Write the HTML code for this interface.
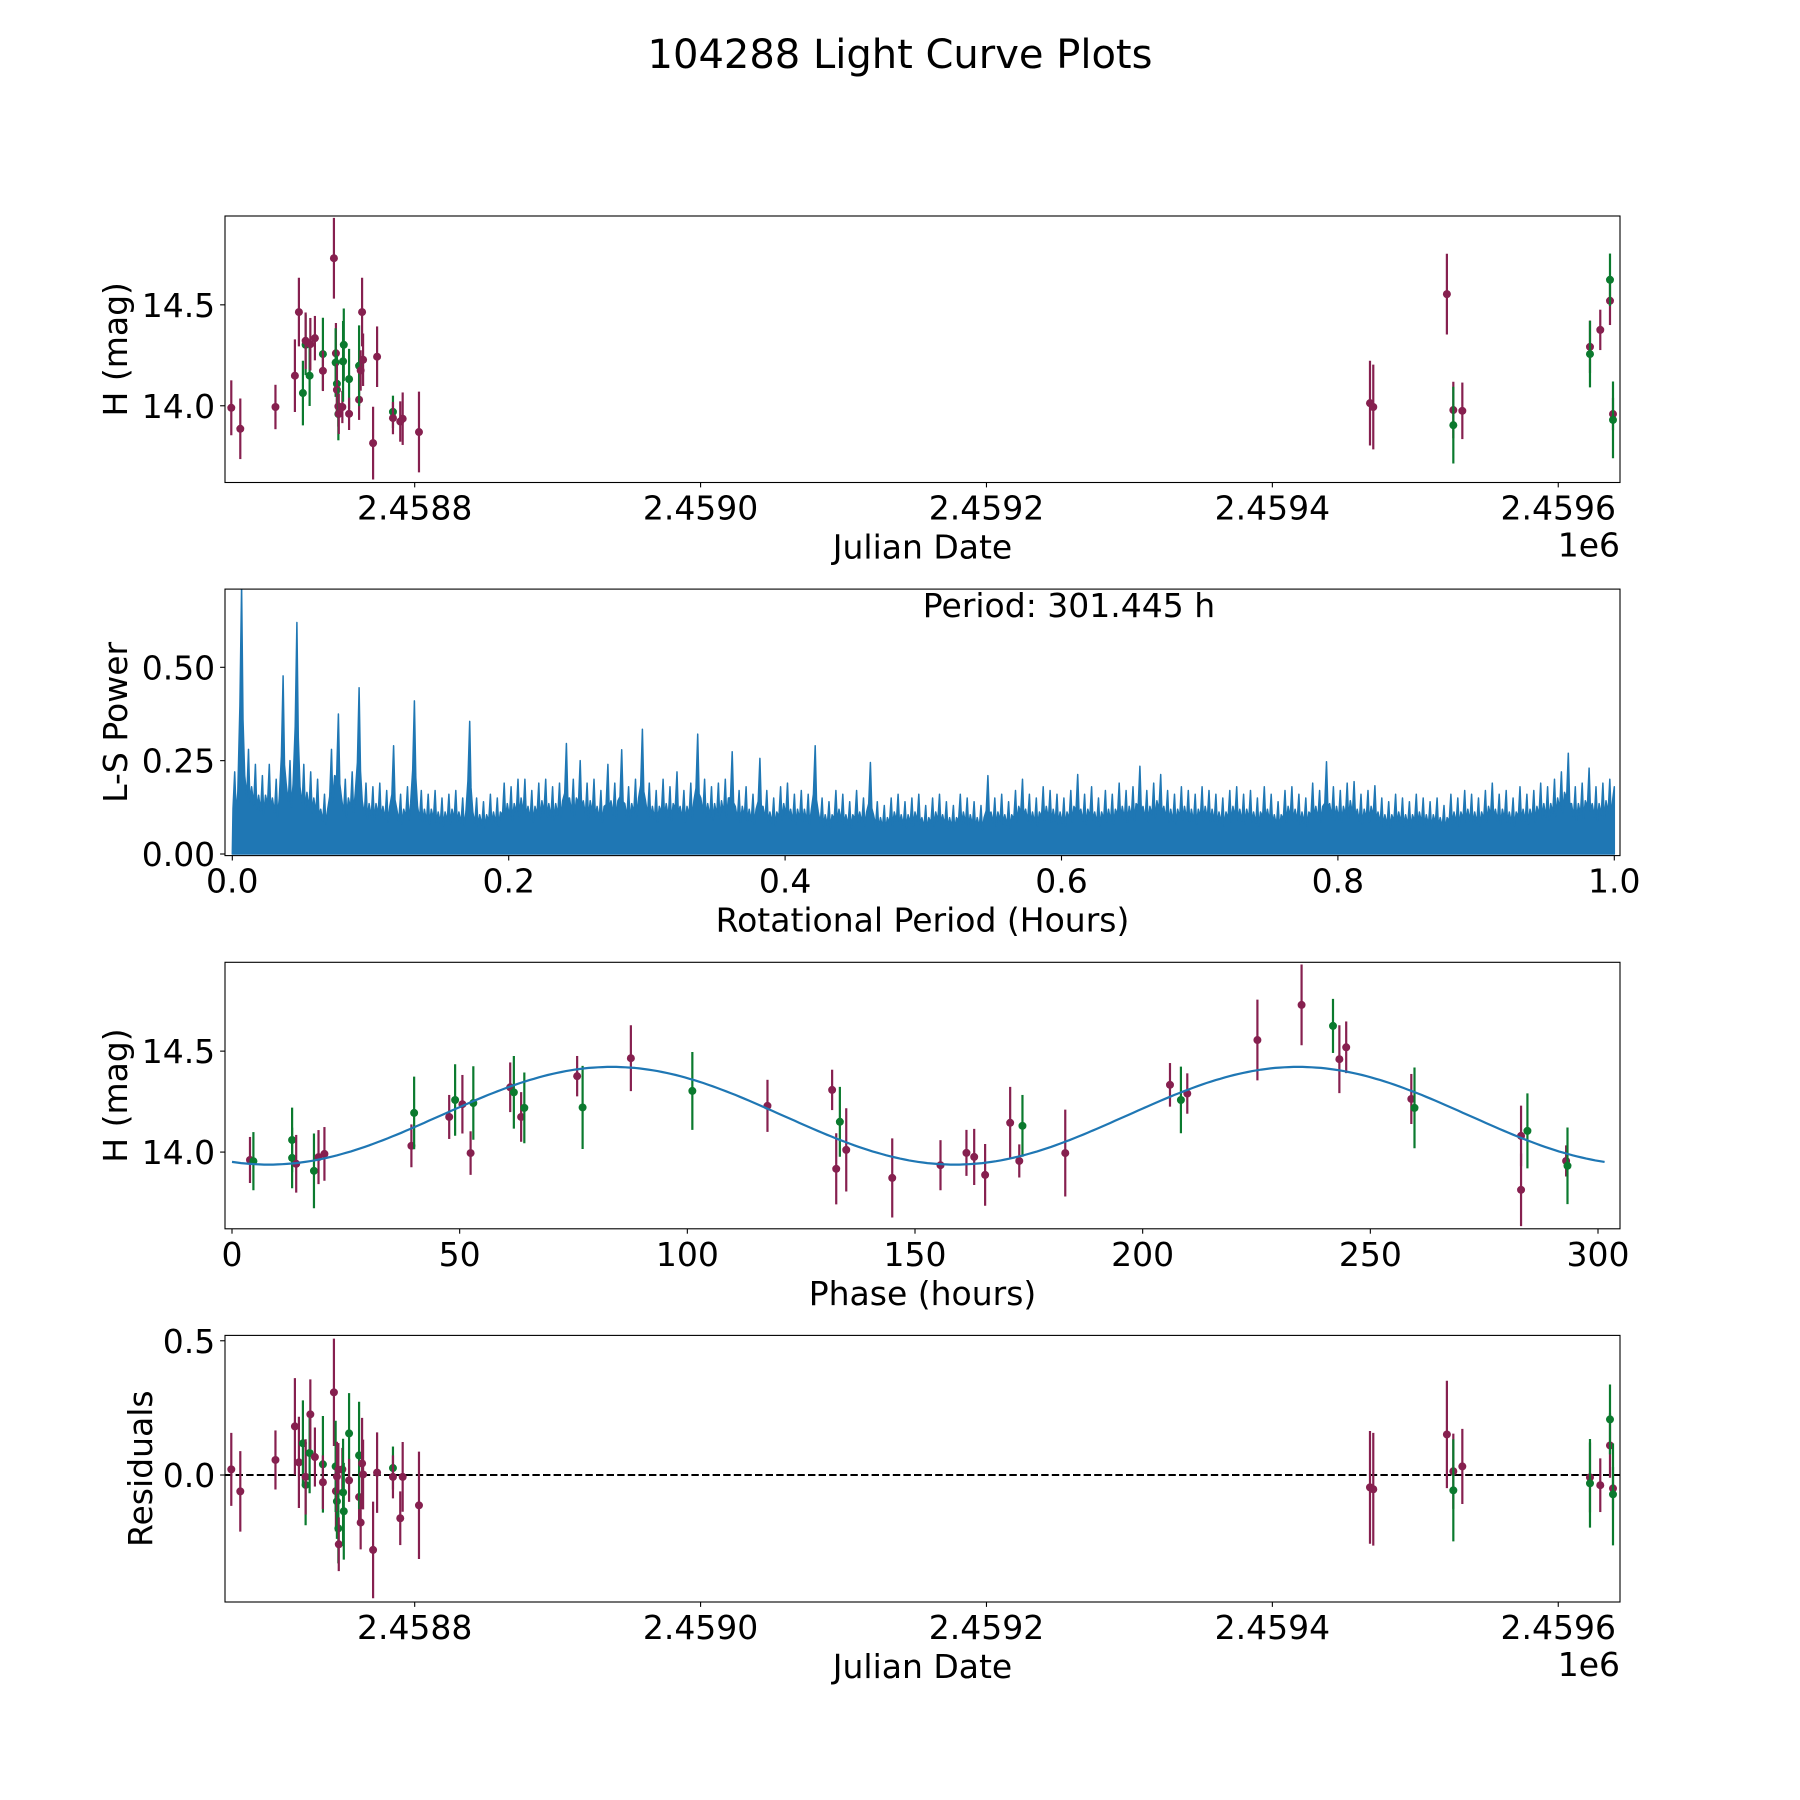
<!DOCTYPE html>
<html><head><meta charset="utf-8"><style>
html,body{margin:0;padding:0;background:#fff;}
svg{display:block;font-family:"DejaVu Sans","Liberation Sans",sans-serif;}
</style></head><body>
<svg id="fig" width="1800" height="1800" viewBox="0 0 1800 1800" xmlns="http://www.w3.org/2000/svg">
<rect width="1800" height="1800" fill="#fff"/>
<text x="900" y="68" font-size="40" text-anchor="middle">104288 Light Curve Plots</text>
</svg>
<script>
// ---- panel 1 / 4 data (Julian Date) ----
const jd = [2458671.7,2458678.0,2458702.6,2458716.2,2458719.0,2458721.8,2458723.7,2458723.7,2458726.5,2458727.0,2458730.2,2458735.8,2458735.8,2458743.5,2458744.9,2458744.7,2458745.6,2458745.6,2458746.6,2458746.6,2458746.9,2458749.4,2458749.9,2458750.4,2458754.1,2458754.1,2458761.1,2458761.1,2458762.2,2458763.2,2458763.9,2458773.7,2458770.9,2458784.8,2458784.8,2458789.9,2458791.6,2458803.0,2459468.3,2459470.6,2459522.1,2459526.6,2459526.6,2459532.9,2459622.2,2459622.2,2459629.4,2459636.2,2459636.2,2459638.3,2459638.3];
const mag = [13.99,13.886,13.994,14.149,14.464,14.063,14.302,14.322,14.149,14.305,14.335,14.256,14.173,14.731,14.26,14.214,14.109,14.079,13.997,13.959,13.96,13.994,14.22,14.302,14.132,13.96,14.03,14.198,14.175,14.464,14.228,14.243,13.815,13.97,13.939,13.922,13.936,13.87,14.013,13.994,14.553,13.979,13.904,13.975,14.292,14.256,14.376,14.52,14.624,13.959,13.93];
const magErr = [0.136,0.15,0.11,0.18,0.17,0.16,0.15,0.14,0.15,0.13,0.11,0.18,0.1,0.2,0.15,0.17,0.14,0.13,0.1,0.13,0.1,0.08,0.2,0.18,0.15,0.08,0.1,0.2,0.1,0.17,0.13,0.15,0.18,0.08,0.08,0.1,0.13,0.2,0.21,0.21,0.2,0.14,0.19,0.14,0.13,0.165,0.1,0.12,0.13,0.08,0.19];
const band = ["p","p","p","p","p","g","g","p","g","p","p","g","p","p","p","g","g","p","p","g","p","p","g","g","g","p","p","g","p","p","p","p","p","g","p","p","p","p","p","p","p","p","g","p","p","g","p","p","g","p","g"];
const resid = [0.021,-0.061,0.056,0.181,0.047,0.118,-0.037,-0.007,0.082,0.226,0.067,0.04,-0.027,0.308,-0.06,0.032,-0.098,-0.006,0.019,-0.199,-0.258,0.021,-0.065,-0.135,0.155,-0.02,-0.082,0.073,-0.177,0.043,0.002,0.009,-0.279,0.026,-0.007,-0.161,-0.007,-0.113,-0.046,-0.053,0.151,0.014,-0.057,0.032,-0.009,-0.031,-0.038,0.11,0.207,-0.05,-0.072];
// ---- panel 3 data (phase folded) ----
const phase = [3.95,4.7,13.2,13.2,14.1,18,19,20.3,39.4,40,47.7,49,50.6,52.4,53,61.1,61.9,63.5,64.2,75.8,77,87.6,101.1,117.6,131.8,133.5,132.7,134.9,145,155.6,161.3,163,165.4,170.9,173.6,172.9,183,206,208.4,209.8,225.2,234.9,241.8,243.2,244.7,259,259.7,283.1,284.5,283.1,293,293.3];
const phMag = [13.961,13.955,14.06,13.971,13.942,13.907,13.975,13.991,14.031,14.194,14.174,14.258,14.237,13.995,14.243,14.321,14.296,14.174,14.219,14.376,14.221,14.465,14.303,14.229,14.308,14.15,13.917,14.011,13.872,13.935,13.996,13.976,13.887,14.145,14.13,13.956,13.995,14.333,14.258,14.29,14.555,14.729,14.625,14.46,14.519,14.263,14.219,14.08,14.105,13.813,13.956,13.932];
const phErr = [0.114,0.144,0.16,0.15,0.143,0.185,0.134,0.133,0.106,0.18,0.109,0.177,0.145,0.108,0.182,0.123,0.18,0.123,0.175,0.1,0.206,0.163,0.193,0.129,0.1,0.173,0.176,0.206,0.196,0.124,0.114,0.139,0.153,0.178,0.153,0.082,0.215,0.108,0.165,0.1,0.2,0.2,0.134,0.168,0.128,0.124,0.2,0.15,0.186,0.18,0.077,0.19];
const phBand = ["p","g","g","g","p","g","p","p","p","g","p","g","p","p","g","p","g","p","g","p","g","p","g","p","p","g","p","p","p","p","p","p","p","p","g","p","p","p","g","p","p","p","g","p","p","p","g","p","g","p","p","g"];
// ---- model fit ----
const periodHours = 301.445;
const modelMean = 14.18, modelAmp = 0.242, modelPeak = 83.4;
// ---- periodogram (power per 0.005 h bin) ----
const lsPower = [0.22,0.72,0.28,0.24,0.21,0.24,0.2,0.477,0.25,0.62,
0.24,0.22,0.2,0.16,0.28,0.375,0.2,0.22,0.445,0.19,
0.18,0.19,0.17,0.29,0.16,0.18,0.41,0.17,0.16,0.17,
0.15,0.16,0.17,0.15,0.355,0.15,0.14,0.16,0.15,0.19,
0.18,0.2,0.2,0.17,0.19,0.2,0.18,0.19,0.296,0.2,
0.25,0.19,0.2,0.17,0.24,0.19,0.279,0.18,0.2,0.334,
0.19,0.17,0.2,0.18,0.22,0.17,0.19,0.321,0.2,0.18,
0.19,0.2,0.274,0.17,0.18,0.16,0.256,0.17,0.15,0.18,
0.19,0.16,0.17,0.16,0.29,0.15,0.14,0.17,0.16,0.14,
0.17,0.15,0.245,0.14,0.13,0.15,0.16,0.14,0.15,0.16,
0.13,0.15,0.16,0.14,0.13,0.16,0.15,0.14,0.13,0.21,
0.15,0.16,0.14,0.17,0.2,0.16,0.15,0.18,0.17,0.16,
0.15,0.17,0.213,0.16,0.18,0.15,0.17,0.16,0.19,0.17,
0.18,0.235,0.17,0.19,0.213,0.17,0.16,0.18,0.17,0.16,
0.18,0.17,0.16,0.15,0.17,0.18,0.16,0.17,0.15,0.18,
0.16,0.14,0.17,0.18,0.16,0.15,0.19,0.17,0.247,0.18,
0.17,0.19,0.194,0.16,0.17,0.183,0.15,0.14,0.16,0.15,
0.14,0.16,0.15,0.14,0.15,0.13,0.16,0.15,0.17,0.16,
0.15,0.17,0.19,0.16,0.17,0.15,0.18,0.16,0.17,0.19,
0.18,0.2,0.22,0.27,0.18,0.19,0.23,0.18,0.19,0.2];
const jdTicks = [2458800,2459000,2459200,2459400,2459600];
const jdTickLabels = ["2.4588","2.4590","2.4592","2.4594","2.4596"];
const magTicks = [14.0,14.5], magTickLabels = ["14.0","14.5"];
const perTicks = [0,0.2,0.4,0.6,0.8,1.0], perTickLabels = ["0.0","0.2","0.4","0.6","0.8","1.0"];
const powTicks = [0,0.25,0.5], powTickLabels = ["0.00","0.25","0.50"];
const phTicks = [0,50,100,150,200,250,300], phTickLabels = ["0","50","100","150","200","250","300"];
const resTicks = [0,0.5], resTickLabels = ["0.0","0.5"];

const NS = "http://www.w3.org/2000/svg";
const svg = document.getElementById('fig');
const L = 225, R = 1620, FS = 33;
const COL = {p:"#86204f", g:"#0b7a2e"};
function mk(tag, attrs, parent){ const e=document.createElementNS(NS,tag); for(const k in attrs) e.setAttribute(k,attrs[k]); (parent||svg).appendChild(e); return e; }
function lin(d0,d1,r0,r1){ return v => r0 + (v-d0)/(d1-d0)*(r1-r0); }

function axes(name, top, bot, xs, ys, xt, xtl, yt, ytl, xlabel, ylabel, ylabX, offset){
  const g = mk('g',{});
  
  
  xt.forEach((t,i)=>{
    const x = xs(t);
    const tk = mk('line',{x1:x,x2:x,y1:bot,y2:bot+4.9,stroke:"#000","stroke-width":1.1},g);
    
    
    const tl = mk('text',{x:x,y:bot+37,"font-size":FS,"text-anchor":"middle"},g);
    tl.textContent = xtl[i];
    
    
  });
  yt.forEach((t,i)=>{
    const y = ys(t);
    const tk = mk('line',{x1:L-4.9,x2:L,y1:y,y2:y,stroke:"#000","stroke-width":1.1},g);
    
    
    const tl = mk('text',{x:L-9.8,y:y+12,"font-size":FS,"text-anchor":"end"},g);
    tl.textContent = ytl[i];
    
    
  });
  const xl = mk('text',{x:(L+R)/2,y:bot+76,"font-size":FS,"text-anchor":"middle"},g);
  xl.textContent = xlabel;
  
  
  const cy=(top+bot)/2;
  const yl = mk('text',{x:ylabX,y:cy,"font-size":FS,"text-anchor":"middle",transform:`rotate(-90 ${ylabX} ${cy})`},g);
  yl.textContent = ylabel;
  
  
  if(offset){
    const o = mk('text',{x:R,y:bot+74,"font-size":FS,"text-anchor":"end"},g);
    o.textContent = offset;
    
    
  }
  return g;
}
function frame(top,bot){
  const f = mk('rect',{x:L,y:top,width:R-L,height:bot-top,fill:"none",stroke:"#000","stroke-width":1.1});
  
  
}
function clip(id,top,bot){
  const c = mk('clipPath',{id:id}); mk('rect',{x:L,y:top,width:R-L,height:bot-top},c);
}
function errPoint(parent, x, y, y0, y1, color, name){
  const bar = mk('line',{x1:x,x2:x,y1:y0,y2:y1,stroke:color,"stroke-width":2.2},parent);
  
  
  const c = mk('circle',{cx:x,cy:y,r:4,fill:color},parent);
  
  
}

// Panel 1
const T1=216,B1=482.5;
const xJD = lin(2458667.3,2459643.2,L,R);
const yMag1 = lin(13.62,14.94,B1,T1);
clip('c1',T1,B1);
axes('lightcurve-panel',T1,B1,xJD,yMag1,jdTicks,jdTickLabels,magTicks,magTickLabels,'Julian Date','H (mag)',127,'1e6');
const g1 = mk('g',{"clip-path":"url(#c1)"});


jd.forEach((t,i)=>{ errPoint(g1, xJD(t), yMag1(mag[i]), yMag1(mag[i]+magErr[i]), yMag1(mag[i]-magErr[i]), COL[band[i]], 'lightcurve-point'); });
frame(T1,B1);

// Panel 2
const T2=589.1,B2=855.6;
const xPer = lin(0,1,232.3,1614.3);
const yPow = lin(0,0.5,854,667.3);
clip('c2',T2,B2);
axes('periodogram-panel',T2,B2,xPer,yPow,perTicks,perTickLabels,powTicks,powTickLabels,'Rotational Period (Hours)','L-S Power',127);
let pts = [[xPer(0),yPow(0)]];
const bw = 0.005;
lsPower.forEach((v,i)=>{
  const p0=i*bw, next=(i+1<lsPower.length)?lsPower[i+1]:v;
  pts.push([xPer(p0+bw*0.1), yPow(v*0.55)]);
  pts.push([xPer(p0+bw*0.35), yPow(v)]);
  pts.push([xPer(p0+bw*0.55), yPow(v*0.5)]);
  pts.push([xPer(p0+bw*0.8), yPow(Math.min(v,next)*0.75)]);
});
pts.push([xPer(1),yPow(0.18)],[xPer(1),yPow(0)]);
const pg = mk('polygon',{points:pts.map(p=>p[0].toFixed(1)+','+p[1].toFixed(1)).join(' '),fill:"#1f77b4",stroke:"#1f77b4","stroke-width":1.5,"stroke-linejoin":"round","clip-path":"url(#c2)"});


const ptx = mk('text',{x:1069,y:617,"font-size":FS,"text-anchor":"middle"});
ptx.textContent = 'Period: ' + periodHours.toFixed(3) + ' h';


frame(T2,B2);

// Panel 3
const T3=962.3,B3=1228.8;
const xPh = lin(0,300,232,1598);
const yMag3 = lin(13.62,14.94,B3,T3);
clip('c3',T3,B3);
axes('phase-panel',T3,B3,xPh,yMag3,phTicks,phTickLabels,magTicks,magTickLabels,'Phase (hours)','H (mag)',127);
const g3 = mk('g',{"clip-path":"url(#c3)"});


phase.forEach((ph,i)=>{ errPoint(g3, xPh(ph), yMag3(phMag[i]), yMag3(phMag[i]+phErr[i]), yMag3(phMag[i]-phErr[i]), COL[phBand[i]], 'phase-point'); });
let cpts=[];
for(let k=0;k<=300;k++){ const ph=k/300*periodHours; const m=modelMean+modelAmp*Math.cos(2*Math.PI*(ph-modelPeak)/(periodHours/2)); cpts.push(xPh(ph).toFixed(1)+','+yMag3(m).toFixed(1)); }
const fit = mk('polyline',{points:cpts.join(' '),fill:"none",stroke:"#1f77b4","stroke-width":2.2,"clip-path":"url(#c3)"});


frame(T3,B3);

// Panel 4
const T4=1335.4,B4=1602;
const yRes = lin(-0.473,0.52,B4,T4);
clip('c4',T4,B4);
axes('residuals-panel',T4,B4,xJD,yRes,jdTicks,jdTickLabels,resTicks,resTickLabels,'Julian Date','Residuals',152,'1e6');
const zl = mk('line',{x1:L,x2:R,y1:yRes(0),y2:yRes(0),stroke:"#000","stroke-width":2,"stroke-dasharray":"7.4,3.2"});


const g4 = mk('g',{"clip-path":"url(#c4)"});


jd.forEach((t,i)=>{ errPoint(g4, xJD(t), yRes(resid[i]), yRes(resid[i]+magErr[i]), yRes(resid[i]-magErr[i]), COL[band[i]], 'residual-point'); });
frame(T4,B4);
</script>
</body></html>
